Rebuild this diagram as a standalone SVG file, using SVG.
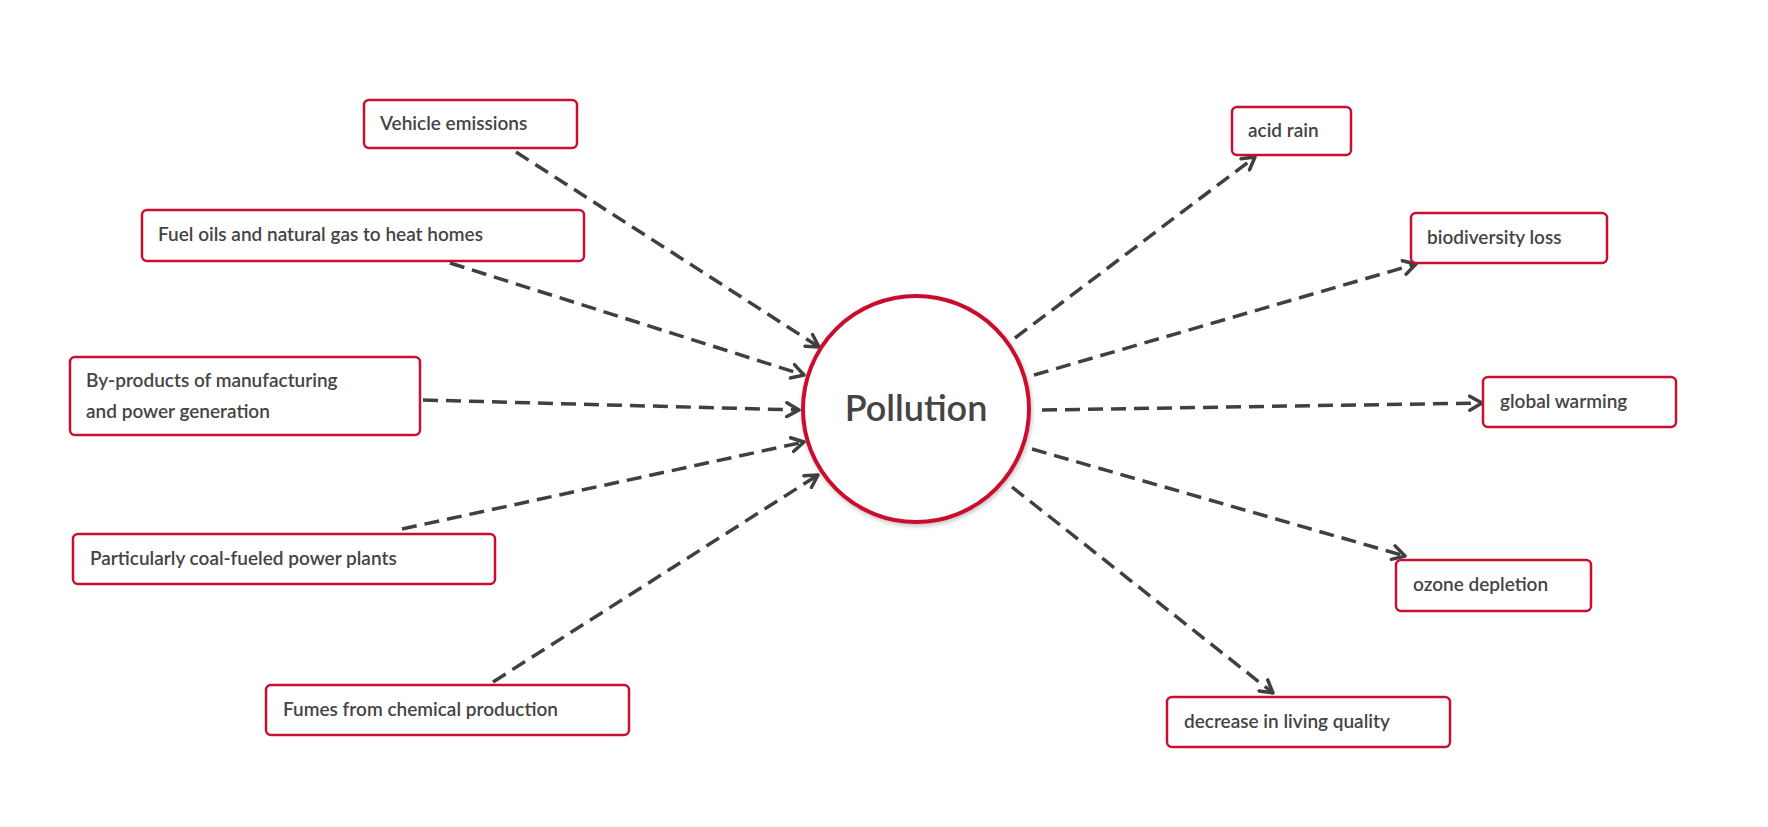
<svg xmlns="http://www.w3.org/2000/svg" width="1768" height="827" viewBox="0 0 1768 827">
<style>
.b{fill:#fff;stroke:#c8102e;stroke-width:2.5}
.t{font-family:Lato,"Open Sans",sans-serif;font-size:19px;font-weight:600;fill:#444}
.c path{fill:none;stroke:#404040;stroke-width:3.5;stroke-dasharray:15 8;marker-end:url(#a)}
</style>
<defs>
<marker id="a" viewBox="0 0 10 10" refX="8" refY="5" markerWidth="5" markerHeight="5" orient="auto" markerUnits="strokeWidth">
<path d="M1,1 L8,5 L1,9" fill="none" stroke="#404040" stroke-width="2" stroke-linecap="round" stroke-linejoin="round"/>
</marker>
<filter id="s" x="-20%" y="-20%" width="140%" height="140%"><feDropShadow dx="1" dy="2" stdDeviation="2" flood-opacity="0.25"/></filter>
</defs>
<rect width="1768" height="827" fill="#fff"/>
<g class="c">
<path d="M516,152 L819,347"/>
<path d="M450,263 L804,375"/>
<path d="M423,400 L799,410"/>
<path d="M402,529 L804,442"/>
<path d="M493,682 L818,475"/>
<path d="M1015,338 L1255,157"/>
<path d="M1034,375 L1416,264"/>
<path d="M1042,410 L1482,403"/>
<path d="M1032,449 L1405,556"/>
<path d="M1012,487 L1273,693"/>
</g>
<g id="pollution"><circle cx="916" cy="409" r="113" fill="#fff" stroke="#c8102e" stroke-width="4" filter="url(#s)"/><text x="916" y="421" text-anchor="middle" style="font-family:Lato,'Open Sans',sans-serif;font-size:36px;font-weight:600;fill:#444">Pollution</text></g>
<g id="n1"><rect class="b" x="364" y="100" width="213" height="48" rx="5"/><text class="t" x="380" y="130">Vehicle emissions</text></g>
<g id="n2"><rect class="b" x="142" y="210" width="442" height="51" rx="5"/><text class="t" x="158" y="241">Fuel oils and natural gas to heat homes</text></g>
<g id="n3"><rect class="b" x="70" y="357" width="350" height="78" rx="5"/><text class="t" x="86" y="387">By-products of manufacturing</text><text class="t" x="86" y="418">and power generation</text></g>
<g id="n4"><rect class="b" x="73" y="534" width="422" height="50" rx="5"/><text class="t" x="90" y="565">Particularly coal-fueled power plants</text></g>
<g id="n5"><rect class="b" x="266" y="685" width="363" height="50" rx="5"/><text class="t" x="283" y="716">Fumes from chemical production</text></g>
<g id="n6"><rect class="b" x="1232" y="107" width="119" height="48" rx="5"/><text class="t" x="1248" y="137">acid rain</text></g>
<g id="n7"><rect class="b" x="1411" y="213" width="196" height="50" rx="5"/><text class="t" x="1427" y="244">biodiversity loss</text></g>
<g id="n8"><rect class="b" x="1483" y="377" width="193" height="50" rx="5"/><text class="t" x="1500" y="408">global warming</text></g>
<g id="n9"><rect class="b" x="1396" y="560" width="195" height="51" rx="5"/><text class="t" x="1413" y="591">ozone depletion</text></g>
<g id="n10"><rect class="b" x="1167" y="697" width="283" height="50" rx="5"/><text class="t" x="1184" y="728">decrease in living quality</text></g>
</svg>
